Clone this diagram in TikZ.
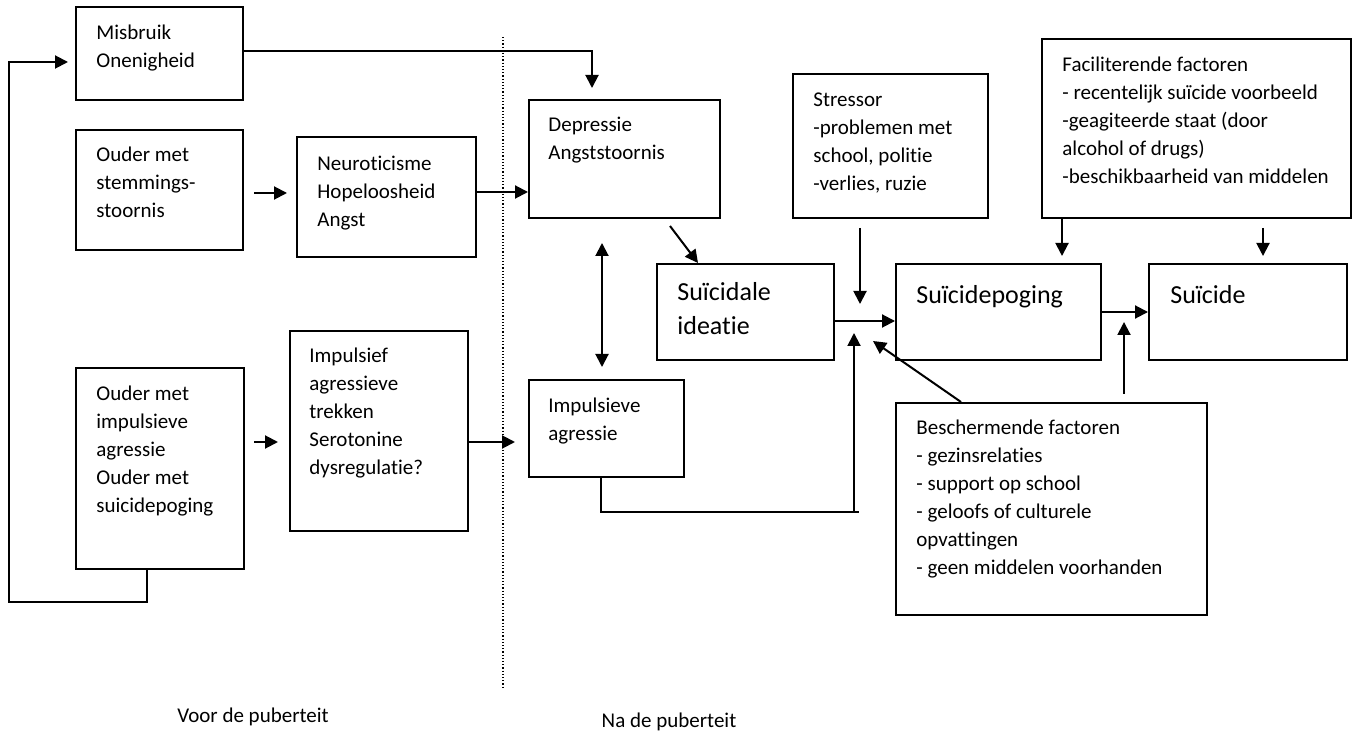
\documentclass[tikz,border=0pt]{standalone}
\usepackage{fontspec}
\setmainfont{Carlito}[Ligatures=NoCommon]
\usetikzlibrary{arrows.meta}

\begin{document}
\begin{tikzpicture}[x=0.5pt, y=-0.5pt,
  box/.style={draw, line width=1pt, anchor=north west, inner sep=0pt},
  wh/.style 2 args={minimum width=#1*0.5pt, minimum height=#2*0.5pt},
  txt/.style={anchor=north west, align=left, inner sep=0pt, font=\fontsize{10.5}{14}\selectfont,
    execute at begin node=\rule{0pt}{9pt}},
  big/.style={anchor=north west, align=left, inner sep=0pt, font=\fontsize{13}{17}\selectfont,
    execute at begin node=\rule{0pt}{11pt}},
  line/.style={line width=1pt},
  arr/.style={line width=1pt, -{Triangle[length=6.5pt, width=6.5pt]}},
  arr2/.style={line width=1pt, {Triangle[length=6.5pt, width=6.5pt]}-{Triangle[length=6.5pt, width=6.5pt]}}]

 \useasboundingbox (0,0) rectangle (1352,731);

 %%%%%%%%%% Voor de puberteit %%%%%%%%%%
 \node[box, wh={167}{93}] (misbruik) at (75,6) {};
 \node[txt] (misbruik-t) at ([shift={(21,19)}]misbruik.north west) {Misbruik\\Onenigheid};

 \node[box, wh={167}{120}] (stemming) at (75,129) {};
 \node[txt] (stemming-t) at ([shift={(21,18)}]stemming.north west) {Ouder met\\stemmings-\\stoornis};

 \node[box, wh={179}{120}] (neuro) at (296,136) {};
 \node[txt] (neuro-t) at ([shift={(21,20)}]neuro.north west) {Neuroticisme\\Hopeloosheid\\Angst};

 \node[box, wh={168}{201}] (ouderimp) at (75,367) {};
 \node[txt] (ouderimp-t) at ([shift={(21,19)}]ouderimp.north west) {Ouder met\\impulsieve\\agressie\\Ouder met\\suicidepoging};

 \node[box, wh={178}{200}] (trekken) at (289,330) {};
 \node[txt] (trekken-t) at ([shift={(20,18)}]trekken.north west) {Impulsief\\agressieve\\trekken\\Serotonine\\dysregulatie?};

 % scheiding
 \coordinate (top) at (503,37);
 \coordinate (bottom) at (503,688);
 \draw[line width=0.6pt, dash pattern=on 0.6pt off 1pt] (top) -- (bottom);

 %%%%%%%%%% Na de puberteit %%%%%%%%%%
 \node[box, wh={191}{118}] (depressie) at (528,99) {};
 \node[txt] (depressie-t) at ([shift={(20,18)}]depressie.north west) {Depressie\\Angststoornis};

 \node[box, wh={155}{97}] (impagr) at (528,379) {};
 \node[txt] (impagr-t) at ([shift={(20,19)}]impagr.north west) {Impulsieve\\agressie};

 \node[box, wh={195}{144}] (stressor) at (792,73) {};
 \node[txt] (stressor-t) at ([shift={(21,19)}]stressor.north west) {Stressor\\-problemen met\\school, politie\\-verlies, ruzie};

 \node[box, wh={309}{179}] (facil) at (1041,38) {};
 \node[txt] (facil-t) at ([shift={(21,19)}]facil.north west) {Faciliterende factoren\\- recentelijk suïcide voorbeeld\\-geagiteerde staat (door\\alcohol of drugs)\\-beschikbaarheid van middelen};

 \node[box, wh={177}{96}] (ideatie) at (656,263) {};
 \node[big] (ideatie-t) at ([shift={(21,19)}]ideatie.north west) {Suïcidale\\ideatie};

 \node[box, wh={205}{96}] (poging) at (895,263) {};
 \node[big] (poging-t) at ([shift={(21,18)}]poging.north west) {Suïcidepoging};

 \node[box, wh={198}{96}] (suicide) at (1148,263) {};
 \node[big] (suicide-t) at ([shift={(22,18)}]suicide.north west) {Suïcide};

 \node[box, wh={311}{212}] (bescherm) at (895,402) {};
 \node[txt] (bescherm-t) at ([shift={(21,18)}]bescherm.north west) {Beschermende factoren\\- gezinsrelaties\\- support op school\\- geloofs of culturele\\opvattingen\\- geen middelen voorhanden};

 \node[txt, anchor=center, execute at begin node={}] (voor) at (253,715) {Voor de puberteit};
 \node[txt, anchor=center, execute at begin node={}] (na) at (669,720) {Na de puberteit};

 % pijlen links
 \coordinate (fb) at (9,602);
 \draw[arr] ([xshift=-6.5pt]ouderimp.south) |- (fb) |- ([shift={(-7,8.5)}]misbruik.west);
 \draw[arr] ([yshift=1.25pt]misbruik.east) -| ([shift={(64,-11)}]depressie.north west);
 \draw[arr] ([shift={(10,3)}]stemming.east) -- ([shift={(-9,-4)}]neuro.west);
 \draw[arr] ([yshift=2.5pt]neuro.east) -- ([yshift=2.5pt]neuro.east -| depressie.west);
 \draw[arr] ([shift={(9,-26.5)}]ouderimp.east) -- ++(24,0);
 \draw[arr] ([yshift=-5.5pt]trekken.east) -- ++(46,0);

 % pijlen rechts
 \draw[arr2] ([shift={(74,24)}]depressie.south west) -- ([shift={(74,-12)}]impagr.north west);
 \draw[arr] ([shift={(142,7)}]depressie.south west) -- ([xshift=21pt]ideatie.north west);
 \draw[arr] ([shift={(68,9)}]stressor.south west) -- ++(0,76);
 \draw[arr] ([yshift=-4.5pt]ideatie.east) -- ([yshift=-4.5pt]poging.west);
 \coordinate (jn) at (854,512);
 \draw[line] ([xshift=-2.75pt]impagr.south) |- ([xshift=2.5pt]jn);
 \draw[arr] (jn) -- ++(0,-179);
 \draw[arr] ([xshift=33pt]bescherm.north west) -- ++(-88,-61);
 \draw[arr] (poging.east) -- (suicide.west);
 \draw[arr] ([shift={(229,-8)}]bescherm.north west) -- ++(0,-72);
 \draw[arr] ([xshift=10.5pt]facil.south west) -- ++(0,37);
 \draw[arr] ([shift={(222,9)}]facil.south west) -- ++(0,28);

\end{tikzpicture}
\end{document}
